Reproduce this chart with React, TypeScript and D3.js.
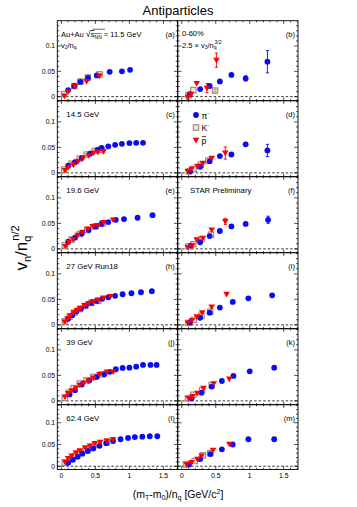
import React from "react";
import * as d3 from "d3";

// ---------- data ----------
const rowLabels = ["11.5 GeV", "14.5 GeV", "19.6 GeV", "27 GeV Run18", "39 GeV", "62.4 GeV"];
const leftLetters = ["(a)", "(c)", "(e)", "(h)", "(j)", "(l)"];
const rightLetters = ["(b)", "(d)", "(f)", "(i)", "(k)", "(m)"];
const xTickLabels = ["0", "0.5", "1", "1.5"];
const yTickLabels = ["0", "0.05", "0.1"];

// v2/nq  [x, y, err]
const piV2_115 = [[0.10,0.013],[0.19,0.021],[0.28,0.029],[0.39,0.037],[0.52,0.042],[0.71,0.049],[0.89,0.050],[1.01,0.053]];
const kV2_115 = [[0.04,0.005],[0.19,0.021],[0.28,0.030],[0.39,0.038],[0.56,0.044]];
const pV2_115 = [[0.045,0.0014],[0.10,0.010],[0.20,0.020],[0.37,0.030],[0.56,0.041]];

const piV2_145 = [[0.10,0.014],[0.20,0.021],[0.30,0.0296],[0.42,0.0375],[0.53,0.045],[0.59,0.049],[0.69,0.052],[0.79,0.055],[0.89,0.057],[1.0,0.0585],[1.10,0.059],[1.20,0.059]];
const kV2_145 = [[0.04,0.0065],[0.15,0.018],[0.27,0.028],[0.37,0.036],[0.49,0.043],[0.59,0.045]];
const pV2_145 = [[0.053,0.005],[0.10,0.011],[0.175,0.016],[0.25,0.023],[0.32,0.030],[0.40,0.034],[0.47,0.039],[0.54,0.041],[0.62,0.042]];

const piV2_196 = [[0.10,0.014],[0.20,0.022],[0.30,0.030],[0.40,0.037],[0.50,0.044],[0.59,0.049],[0.69,0.0526],[0.80,0.057],[0.92,0.0585],[1.12,0.061],[1.34,0.066]];
const kV2_196 = [[0.05,0.007],[0.15,0.018],[0.27,0.029],[0.38,0.037],[0.50,0.044],[0.61,0.050]];
const pV2_196 = [[0.06,0.005],[0.11,0.013],[0.17,0.019],[0.24,0.027],[0.31,0.033],[0.39,0.039],[0.46,0.044],[0.54,0.046],[0.62,0.052],[0.76,0.057]];

const piV2_27 = [[0.10,0.012],[0.16,0.019],[0.22,0.026],[0.29,0.032],[0.36,0.038],[0.44,0.043],[0.52,0.047],[0.60,0.051],[0.69,0.054],[0.79,0.057],[0.90,0.060],[1.03,0.062],[1.17,0.064],[1.33,0.066]];
const kV2_27 = [[0.05,0.007],[0.12,0.016],[0.19,0.024],[0.27,0.031],[0.35,0.037],[0.44,0.043],[0.54,0.047]];
const pV2_27 = [[0.05,0.006],[0.09,0.012],[0.13,0.018],[0.18,0.024],[0.23,0.029],[0.28,0.033],[0.34,0.038],[0.40,0.042],[0.47,0.046],[0.54,0.049],[0.62,0.053],[0.72,0.056]];

const piV2_39 = [[0.12,0.0126],[0.20,0.021],[0.30,0.032],[0.41,0.040],[0.52,0.047],[0.63,0.052],[0.71,0.057],[0.80,0.062],[0.90,0.0646],[1.0,0.065],[1.10,0.067],[1.20,0.0705],[1.31,0.0705],[1.40,0.0705]];
const kV2_39 = [[0.05,0.006],[0.11,0.016],[0.18,0.025],[0.27,0.034],[0.37,0.040],[0.47,0.047],[0.59,0.052]];
const pV2_39 = [[0.053,0.008],[0.10,0.0146],[0.15,0.020],[0.215,0.025],[0.27,0.031],[0.33,0.035],[0.40,0.0395],[0.47,0.045],[0.56,0.052],[0.67,0.057],[0.76,0.057]];

const piV2_624 = [[0.10,0.008],[0.17,0.015],[0.24,0.022],[0.31,0.029],[0.39,0.035],[0.47,0.041],[0.56,0.047],[0.66,0.053],[0.76,0.058],[0.87,0.062],[0.98,0.065],[1.08,0.067],[1.19,0.068],[1.30,0.069],[1.41,0.069]];
const kV2_624 = [[0.05,0.008],[0.13,0.016],[0.20,0.024],[0.28,0.031],[0.36,0.038],[0.45,0.045],[0.55,0.050],[0.67,0.055]];
const pV2_624 = [[0.053,0.010],[0.10,0.018],[0.15,0.0235],[0.215,0.031],[0.27,0.0357],[0.35,0.0426],[0.42,0.047],[0.49,0.0526],[0.57,0.0556],[0.67,0.0586],[0.76,0.0618]];

// 2.5 x v3/nq^{3/2}  [x, y, err]
const piV3_115 = [[0.12,0.005],[0.27,0.015],[0.41,0.021],[0.56,0.030],[0.73,0.043],[0.94,0.036,0.005],[1.26,0.069,0.022]];
const kV3_115 = [[0.10,0.003],[0.17,0.013],[0.49,0.012,0.003]];
const pV3_115 = [[0.09,-0.001,0.004],[0.135,0.005],[0.22,0.026],[0.37,0.017,0.009],[0.51,0.072,0.014]];

const piV3_145 = [[0.12,0.003],[0.27,0.012],[0.41,0.023],[0.56,0.033],[0.73,0.036],[0.94,0.056],[1.26,0.044,0.012]];
const kV3_145 = [[0.105,0.003],[0.18,0.008],[0.28,0.016],[0.39,0.024]];
const pV3_145 = [[0.09,0.003],[0.145,0.008],[0.23,0.013],[0.31,0.019],[0.44,0.029],[0.64,0.039,0.012]];

const piV3_196 = [[0.135,0.0065],[0.27,0.013],[0.41,0.025],[0.56,0.035],[0.73,0.044],[0.94,0.049],[1.27,0.057,0.007]];
const kV3_196 = [[0.10,0.005],[0.17,0.009],[0.29,0.019],[0.43,0.028]];
const pV3_196 = [[0.09,0.003],[0.155,0.0065],[0.22,0.018],[0.31,0.021],[0.44,0.037],[0.64,0.054,0.006]];

const piV3_27 = [[0.12,0.005],[0.27,0.014],[0.41,0.024],[0.56,0.034],[0.75,0.045],[0.98,0.052],[1.33,0.058]];
const kV3_27 = [[0.10,0.004],[0.18,0.010],[0.29,0.018],[0.42,0.026]];
const pV3_27 = [[0.09,0.004],[0.15,0.009],[0.22,0.016],[0.30,0.024],[0.44,0.035],[0.66,0.060]];

const piV3_39 = [[0.145,0.005],[0.29,0.016],[0.44,0.028],[0.59,0.039],[0.76,0.049],[1.0,0.058],[1.36,0.065]];
const kV3_39 = [[0.09,0.005],[0.17,0.012],[0.30,0.021],[0.44,0.031]];
const pV3_39 = [[0.10,0.005],[0.16,0.009],[0.23,0.015],[0.32,0.025],[0.47,0.034],[0.70,0.043]];

const piV3_624 = [[0.106,0.004],[0.27,0.0165],[0.42,0.028],[0.59,0.039],[0.75,0.050],[0.98,0.062],[1.36,0.062]];
const kV3_624 = [[0.06,0.004],[0.19,0.012],[0.31,0.025],[0.42,0.030]];
const pV3_624 = [[0.07,0.004],[0.145,0.009],[0.23,0.0165],[0.29,0.0235],[0.46,0.037],[0.70,0.051]];

const leftPi = [piV2_115, piV2_145, piV2_196, piV2_27, piV2_39, piV2_624];
const leftK = [kV2_115, kV2_145, kV2_196, kV2_27, kV2_39, kV2_624];
const leftP = [pV2_115, pV2_145, pV2_196, pV2_27, pV2_39, pV2_624];
const rightPi = [piV3_115, piV3_145, piV3_196, piV3_27, piV3_39, piV3_624];
const rightK = [kV3_115, kV3_145, kV3_196, kV3_27, kV3_39, kV3_624];
const rightP = [pV3_115, pV3_145, pV3_196, pV3_27, pV3_39, pV3_624];

// ---------- layout ----------
const FONT = "'Liberation Sans', Arial, Helvetica, sans-serif";
const cols = [[57.3, 177.7], [177.7, 298]];
const rows = [
  { top: 20.7, bottom: 100.7, ymin: -0.008, ymax: 0.15 },
  { top: 100.7, bottom: 176.7, ymin: -0.0075, ymax: 0.1415 },
  { top: 176.7, bottom: 252.7, ymin: -0.0075, ymax: 0.1415 },
  { top: 252.7, bottom: 328.7, ymin: -0.0075, ymax: 0.1415 },
  { top: 328.7, bottom: 404.7, ymin: -0.0075, ymax: 0.1415 },
  { top: 404.7, bottom: 469.5, ymin: -0.0075, ymax: 0.1415 },
];
const XDOM: [number, number] = [-0.06, 1.71];
const BLUE = "#0a0af5";
const RED = "#ff0000";
const KCOL = "#9c887c";

function Tri({ x, y }: { x: number; y: number }) {
  return <path d={`M${x - 3.3},${y - 2.4}L${x + 3.3},${y - 2.4}L${x},${y + 3.3}Z`} fill={RED} />;
}
function Sq({ x, y }: { x: number; y: number }) {
  return <rect x={x - 2.7} y={y - 2.7} width={5.4} height={5.4} fill="rgba(200,180,170,0.35)" stroke={KCOL} strokeWidth={1.1} />;
}
function Circ({ x, y }: { x: number; y: number }) {
  return <circle cx={x} cy={y} r={2.9} fill={BLUE} />;
}

function ErrBars({ pts, xs, ys, color }: any) {
  return (
    <g stroke={color} strokeWidth={0.9}>
      {pts.filter((p: number[]) => p[2] !== undefined).map((p: number[], i: number) => {
        const x = xs(p[0]);
        const y1 = ys(p[1] - p[2]);
        const y2 = ys(p[1] + p[2]);
        return (
          <g key={i}>
            <line x1={x} x2={x} y1={y1} y2={y2} />
            <line x1={x - 1.6} x2={x + 1.6} y1={y1} y2={y1} />
            <line x1={x - 1.6} x2={x + 1.6} y1={y2} y2={y2} />
          </g>
        );
      })}
    </g>
  );
}

function Panel({ ri, ci }: { ri: number; ci: number }) {
  const r = rows[ri];
  const [x0, x1] = cols[ci];
  const xs = d3.scaleLinear().domain(XDOM).range([x0, x1]);
  const ys = d3.scaleLinear().domain([r.ymin, r.ymax]).range([r.bottom, r.top]);
  const pi = ci === 0 ? leftPi[ri] : rightPi[ri];
  const k = ci === 0 ? leftK[ri] : rightK[ri];
  const p = ci === 0 ? leftP[ri] : rightP[ri];

  const xMinor = d3.range(0, 1.71, 0.1).map((v) => +v.toFixed(2));
  const xMajor = [0, 0.5, 1, 1.5];
  const yMinor = d3.range(0, r.ymax, 0.01).map((v) => +v.toFixed(3));
  const yMajor = [0, 0.05, 0.1, 0.15].filter((v) => v <= r.ymax + 1e-9);

  const isBottom = ri === rows.length - 1;
  return (
    <g>
      {/* zero line */}
      <line x1={x0} x2={x1} y1={ys(0)} y2={ys(0)} stroke="#000" strokeWidth={0.8} strokeDasharray="2.5,2" />
      {/* ticks */}
      <g stroke="#000" strokeWidth={0.7}>
        {xMinor.map((v) => {
          const maj = xMajor.some((m) => Math.abs(m - v) < 1e-6);
          const L = maj ? 3.2 : 1.7;
          return (
            <g key={"x" + v}>
              <line x1={xs(v)} x2={xs(v)} y1={r.bottom} y2={r.bottom - L} />
              <line x1={xs(v)} x2={xs(v)} y1={r.top} y2={r.top + L} />
            </g>
          );
        })}
        {yMinor.map((v) => {
          const maj = yMajor.some((m) => Math.abs(m - v) < 1e-6);
          const L = maj ? 3.8 : 2;
          return (
            <g key={"y" + v}>
              <line x1={x0} x2={x0 + L} y1={ys(v)} y2={ys(v)} />
              <line x1={x1} x2={x1 - L} y1={ys(v)} y2={ys(v)} />
            </g>
          );
        })}
      </g>
      {/* y tick labels */}
      {ci === 0 &&
        [0, 0.05, 0.1].map((v, i) => (
          <text key={v} x={x0 - 2.2} y={ys(v) + 2.4} fontSize={6.8} textAnchor="end" fontFamily={FONT}>
            {yTickLabels[i]}
          </text>
        ))}
      {/* x tick labels */}
      {isBottom &&
        xMajor.map((v, i) => (
          <text key={v} x={xs(v)} y={r.bottom + 8} fontSize={6.8} textAnchor="middle" fontFamily={FONT}>
            {xTickLabels[i]}
          </text>
        ))}
      {/* data */}
      <ErrBars pts={k} xs={xs} ys={ys} color={KCOL} />
      <ErrBars pts={pi} xs={xs} ys={ys} color={BLUE} />
      <ErrBars pts={p} xs={xs} ys={ys} color={RED} />
      {k.map((d: number[], i: number) => <Sq key={"k" + i} x={xs(d[0])} y={ys(d[1])} />)}
      {pi.map((d: number[], i: number) => <Circ key={"p" + i} x={xs(d[0])} y={ys(d[1])} />)}
      {p.map((d: number[], i: number) => <Tri key={"t" + i} x={xs(d[0])} y={ys(d[1])} />)}
      {/* frame */}
      <rect x={x0} y={r.top} width={x1 - x0} height={r.bottom - r.top} fill="none" stroke="#000" strokeWidth={0.9} />
      {/* panel letter */}
      <text x={x1 - 3} y={r.top + 16} fontSize={7.5} textAnchor="end" fontFamily={FONT}>
        {ci === 0 ? leftLetters[ri] : rightLetters[ri]}
      </text>
      {/* energy label */}
      {ci === 0 && ri > 0 && (
        <text x={x0 + 9} y={r.top + 16} fontSize={7.8} fontFamily={FONT}>
          {rowLabels[ri]}
        </text>
      )}
    </g>
  );
}

export default function App() {
  const W = 357, H = 507;
  return (
    <svg width={W} height={H} style={{ position: "absolute", left: 0, top: 0, background: "#fff" }} fontFamily={FONT}>
      <rect width={W} height={H} fill="#fff" />
      <text x={178} y={15} fontSize={13} textAnchor="middle">Antiparticles</text>
      {rows.map((_, ri) => (
        <g key={ri}>
          <Panel ri={ri} ci={0} />
          <Panel ri={ri} ci={1} />
        </g>
      ))}
      {/* row-1 annotations */}
      <text x={61} y={37} fontSize={7.5}>
        Au+Au <tspan fontSize={9}>√</tspan><tspan textDecoration="overline">s<tspan fontSize={5} dy={1.5}>NN</tspan></tspan><tspan dy={-1.5}> = {rowLabels[0]}</tspan>
      </text>
      <line x1={92.5} x2={105} y1={29.2} y2={29.2} stroke="#000" strokeWidth={0.6} />
      <text x={61} y={47.5} fontSize={7.5}>
        v<tspan fontSize={5} dy={1.5}>2</tspan><tspan dy={-1.5}>/n</tspan><tspan fontSize={5} dy={1.5}>q</tspan>
      </text>
      <text x={182} y={36} fontSize={7.5}>0-60%</text>
      <text x={182} y={47.5} fontSize={7.5}>
        2.5 × v<tspan fontSize={5} dy={1.5}>3</tspan><tspan dy={-1.5}>/n</tspan><tspan fontSize={5} dy={1.5}>q</tspan><tspan fontSize={5} dy={-5} dx={-2}>3/2</tspan>
      </text>
      {/* legend */}
      <circle cx={196} cy={115} r={2.9} fill={BLUE} />
      <text x={201.5} y={118.5} fontSize={8.5}>π<tspan fontSize={5} dy={-4}>-</tspan></text>
      <rect x={193.3} y={124.8} width={5.4} height={5.4} fill="rgba(200,180,170,0.35)" stroke={KCOL} strokeWidth={1.1} />
      <text x={201.5} y={131} fontSize={8.5}>K<tspan fontSize={5} dy={-4}>-</tspan></text>
      <path d="M192.7,137.8L199.3,137.8L196,143.5Z" fill={RED} />
      <text x={201.5} y={143.5} fontSize={8.5}>p</text>
      <line x1={201.8} x2={206} y1={136.5} y2={136.5} stroke="#000" strokeWidth={0.7} />
      <text x={190} y={193} fontSize={7.8}>STAR Preliminary</text>
      {/* axis titles */}
      <text transform="translate(27,248) rotate(-90)" fontSize={17} textAnchor="middle">
        v<tspan fontSize={11} dy={4}>n</tspan><tspan dy={-4}>/n</tspan><tspan fontSize={11} dy={4}>q</tspan><tspan fontSize={11} dy={-12} dx={-5}>n/2</tspan>
      </text>
      <text x={178} y={498} fontSize={10.5} textAnchor="middle">
        (m<tspan fontSize={7} dy={2}>T</tspan><tspan dy={-2}>-m</tspan><tspan fontSize={7} dy={2}>0</tspan><tspan dy={-2}>)/n</tspan><tspan fontSize={7} dy={2}>q</tspan><tspan dy={-2}> [GeV/c</tspan><tspan fontSize={7} dy={-4}>2</tspan><tspan dy={4}>]</tspan>
      </text>
    </svg>
  );
}
